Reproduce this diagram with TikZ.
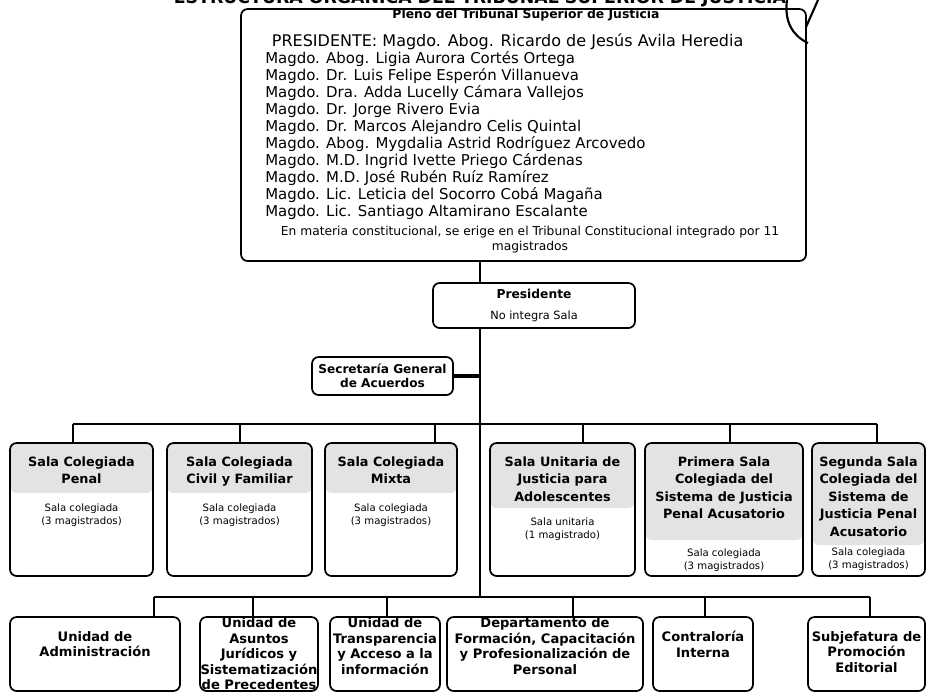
\documentclass[tikz,border=0pt]{standalone}
\usepackage{fontspec}
\setmainfont{DejaVu Sans}
\usetikzlibrary{positioning}

\tikzset{
  caja/.style={draw, line width=1.3pt, rounded corners=5pt, inner sep=0pt},
  sala/.style={caja, minimum height=99.75pt,
    path picture={\fill[gray!22] (path picture bounding box.north west) rectangle ([yshift=-#1]path picture bounding box.north east);}},
  unidad/.style={caja, minimum height=55.5pt},
  titulo/.style={inner sep=0pt, align=center, font=\fontsize{9.6}{13.1}\selectfont\bfseries},
  nota/.style={inner sep=0pt, align=center, font=\fontsize{7.6}{10}\selectfont},
  rotulo/.style={inner sep=0pt, align=center, font=\fontsize{9.8}{11.6}\selectfont\bfseries},
  linea/.style={line width=1.3pt},
}

\begin{document}
\begin{tikzpicture}[x=0.75pt, y=-0.75pt]
\useasboundingbox (0,0) rectangle (927,693);
\clip (0,0) rectangle (927,693);

% titulo (cortado arriba)
\node[anchor=base, inner sep=0pt, font=\fontsize{13}{14}\selectfont\bfseries] (encabezado) at (480,3) {ESTRUCTURA ORGÁNICA DEL TRIBUNAL SUPERIOR DE JUSTICIA};

% pleno
\node[caja, minimum width=423.75pt, minimum height=189pt] (pleno) at (523.5,135) {};
\node[inner sep=0pt, font=\fontsize{9.3}{11}\selectfont\bfseries] (plenoT) at (526,15) {Pleno del Tribunal Superior de Justicia};
\node[anchor=north west, inner sep=0pt, align=left, font=\fontsize{11.2}{12.75}\selectfont] (magdos) at (265,33) {\hspace*{5pt}{\fontsize{12}{12.75}\selectfont PRESIDENTE: Magdo. Abog. Ricardo de Jesús Avila Heredia}\\
Magdo. Abog. Ligia Aurora Cortés Ortega\\
Magdo. Dr. Luis Felipe Esperón Villanueva\\
Magdo. Dra. Adda Lucelly Cámara Vallejos\\
Magdo. Dr. Jorge Rivero Evia\\
Magdo. Dr. Marcos Alejandro Celis Quintal\\
Magdo. Abog. Mygdalia Astrid Rodríguez Arcovedo\\
Magdo. M.D. Ingrid Ivette Priego Cárdenas\\
Magdo. M.D. José Rubén Ruíz Ramírez\\
Magdo. Lic. Leticia del Socorro Cobá Magaña\\
Magdo. Lic. Santiago Altamirano Escalante};
\node[nota, font=\fontsize{9.2}{11.5}\selectfont] (constit) at (530,239.5) {En materia constitucional, se erige en el Tribunal Constitucional integrado por 11\\magistrados};

% presidente y secretaria
\node[caja, minimum width=151.5pt, minimum height=33.75pt, align=center, font=\fontsize{9.2}{15.75}\selectfont] (pres) at (534,305.5) {\textbf{Presidente}\\{\fontsize{8.5}{15.75}\selectfont No integra Sala}};
\node[caja, minimum width=105.75pt, minimum height=28.5pt, align=center, font=\fontsize{9.1}{10.5}\selectfont\bfseries] (secre) at (382.5,376) {Secretaría General\\de Acuerdos};

% salas
\node[sala=37.5pt, minimum width=107.25pt] (penal) at (81.5,509.5) {};
\node[titulo, below=10.5pt of penal.north] (penalT) {Sala Colegiada\\Penal};
\node[nota, below=45.75pt of penal.north] (penalN) {Sala colegiada\\(3 magistrados)};

\node[sala=37.5pt, minimum width=108.75pt] (civil) at (239.5,509.5) {};
\node[titulo, below=10.5pt of civil.north] (civilT) {Sala Colegiada\\Civil y Familiar};
\node[nota, below=45.75pt of civil.north] (civilN) {Sala colegiada\\(3 magistrados)};

\node[sala=37.5pt, minimum width=99pt] (mixta) at (391,509.5) {};
\node[titulo, below=10.5pt of mixta.north] (mixtaT) {Sala Colegiada\\Mixta};
\node[nota, below=45.75pt of mixta.north] (mixtaN) {Sala colegiada\\(3 magistrados)};

\node[sala=48.75pt, minimum width=108.75pt] (unitaria) at (562.5,509.5) {};
\node[titulo, below=10.5pt of unitaria.north] (unitariaT) {Sala Unitaria de\\Justicia para\\Adolescentes};
\node[nota, below=56.25pt of unitaria.north] (unitariaN) {Sala unitaria\\(1 magistrado)};

\node[sala=72.75pt, minimum width=118.5pt] (primera) at (724,509.5) {};
\node[titulo, below=10.5pt of primera.north] (primeraT) {Primera Sala\\Colegiada del\\Sistema de Justicia\\Penal Acusatorio};
\node[nota, below=79.5pt of primera.north] (primeraN) {Sala colegiada\\(3 magistrados)};

\node[sala=76.5pt, minimum width=84.75pt] (segunda) at (868.5,509.5) {};
\node[titulo, below=10.5pt of segunda.north] (segundaT) {Segunda Sala\\Colegiada del\\Sistema de\\Justicia Penal\\Acusatorio};
\node[nota, below=78.75pt of segunda.north] (segundaN) {Sala colegiada\\(3 magistrados)};

% unidades
\node[unidad, minimum width=127.5pt] (admin) at (95,654) {};
\node[rotulo, below=11.25pt of admin.north] (adminT) {Unidad de\\Administración};
\node[unidad, minimum width=88.5pt] (asuntos) at (259,654) {};
\node[rotulo, below=1pt of asuntos.north] (asuntosT) {Unidad de\\Asuntos\\Jurídicos y\\Sistematización\\de Precedentes};
\node[unidad, minimum width=82.5pt] (transp) at (385,654) {};
\node[rotulo, below=1pt of transp.north] (transpT) {Unidad de\\Transparencia\\y Acceso a la\\información};
\node[unidad, minimum width=147pt] (depto) at (545,654) {};
\node[rotulo, below=1pt of depto.north] (deptoT) {Departamento de\\Formación, Capacitación\\y Profesionalización de\\Personal};
\node[unidad, minimum width=75pt] (contra) at (703,654) {};
\node[rotulo, below=11.25pt of contra.north] (contraT) {Contraloría\\Interna};
\node[unidad, minimum width=87.75pt] (subjef) at (866.5,654) {};
\node[rotulo, below=11.25pt of subjef.north] (subjefT) {Subjefatura de\\Promoción\\Editorial};

% lineas
\coordinate (b1) at (480,424);
\coordinate (b2) at (480,597);
\draw[linea] (pleno.south -| b1) -- (pres.north -| b1);
\draw[linea] (pres.south -| b1) -- (b2);
\draw[line width=2.4pt] (secre.east) -- (secre.east -| b1);

\coordinate (s1) at (73,424);
\coordinate (s2) at (240,424);
\coordinate (s3) at (435,424);
\coordinate (s4) at (583,424);
\coordinate (s5) at (730,424);
\coordinate (s6) at (877,424);
\draw[linea] (s1) -- (s6);
\draw[linea] (s1) -- (s1 |- penal.north);
\draw[linea] (s2) -- (s2 |- civil.north);
\draw[linea] (s3) -- (s3 |- mixta.north);
\draw[linea] (s4) -- (s4 |- unitaria.north);
\draw[linea] (s5) -- (s5 |- primera.north);
\draw[linea] (s6) -- (s6 |- segunda.north);

\coordinate (u1) at (154,597);
\coordinate (u2) at (253,597);
\coordinate (u3) at (387,597);
\coordinate (u4) at (573,597);
\coordinate (u5) at (705,597);
\coordinate (u6) at (870,597);
\draw[linea] (u1) -- (u6);
\draw[linea] (u1) -- (u1 |- admin.north);
\draw[linea] (u2) -- (u2 |- asuntos.north);
\draw[linea] (u3) -- (u3 |- transp.north);
\draw[linea] (u4) -- (u4 |- depto.north);
\draw[linea] (u5) -- (u5 |- contra.north);
\draw[linea] (u6) -- (u6 |- subjef.north);

% trazo a mano
\draw[line width=1.6pt] (787,0) .. controls (784,22) and (793,36) .. (808,43);
\draw[line width=1.6pt] (818,0) -- (806,27);

\end{tikzpicture}
\end{document}
